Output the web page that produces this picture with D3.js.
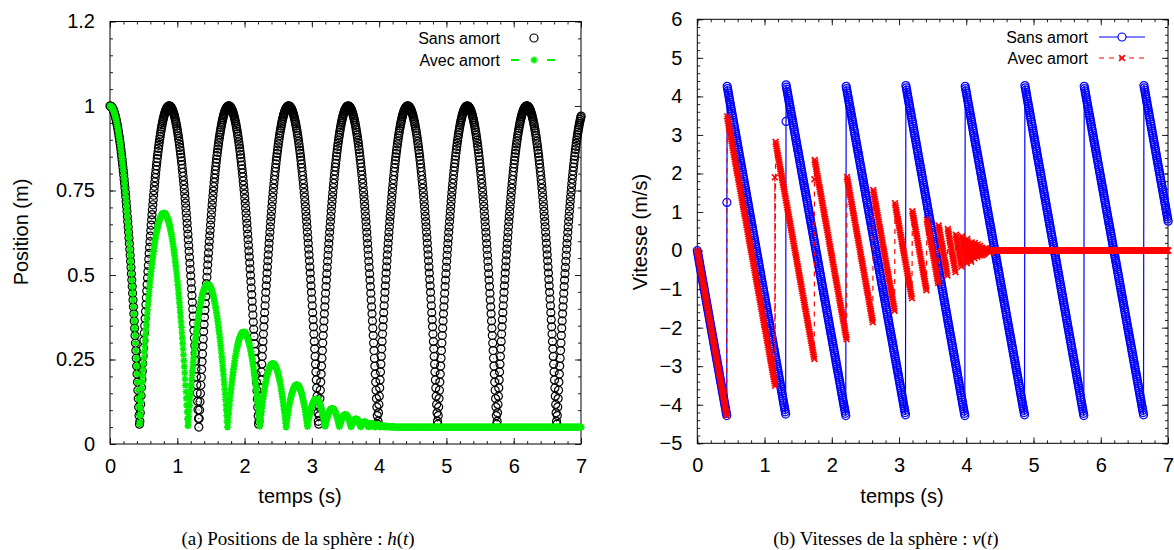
<!DOCTYPE html>
<html>
<head>
<meta charset="utf-8">
<script src="https://cdn.jsdelivr.net/npm/d3@7"></script>
<style>
  body { margin: 0; background: #fff; }
  svg text { font-family: "Liberation Sans", Arial, sans-serif; fill: #000; }
  svg .caption { font-family: "Liberation Serif", "Times New Roman", serif; }
</style>
</head>
<body>
<svg id="chart" width="1174" height="550"></svg>
<script>
// simulation output step and ground level (sphere radius)
const STEP = 0.006;
const GROUND = 0.05;
const T_MAX = 7;

const TIME_TICKS = [0, 1, 2, 3, 4, 5, 6, 7];
const POS_TICKS = [0, 0.25, 0.5, 0.75, 1, 1.25];
const POS_LABELS = ["0", "0.25", "0.5", "0.75", "1", "1.2"];
const VEL_TICKS = [-5, -4, -3, -2, -1, 0, 1, 2, 3, 4, 5, 6];

// "Sans amort": ground contacts, apex of each flight, speed of each flight
const freeImpacts = [0.44, 1.32, 2.21, 3.10, 3.98, 4.87, 5.75, 6.64, 7.52];
const freeApex = [1, 1, 1, 1, 1, 1, 1, 1, 1];
const freeSpeed = [4.3, 4.3, 4.3, 4.3, 4.3, 4.3, 4.3, 4.3, 4.3];
const freeContact = [[0.44, 1.25], [1.32, 3.35]];

// "Avec amort"
const dampImpacts = [0.44, 1.159, 1.746, 2.225, 2.616, 2.935, 3.196, 3.409, 3.583,
  3.725, 3.841, 3.935, 4.013, 4.076, 4.127, 4.169, 4.204, 4.232, 4.255, 4.273, 4.289, 4.36];
const dampApex = [1, 0.683, 0.472, 0.331, 0.238, 0.175, 0.133, 0.105, 0.087, 0.074, 0.066,
  0.061, 0.057, 0.055, 0.053, 0.052, 0.051, 0.051, 0.05, 0.05, 0.05, 0.05];
const dampSpeed = [4.3, 3.52, 2.87, 2.35, 1.92, 1.57, 1.28, 1.04, 0.85, 0.70, 0.57, 0.46,
  0.38, 0.31, 0.25, 0.21, 0.17, 0.14, 0.11, 0.09, 0.075, 0.06];
const dampContact = [[1.153, 1.9], [1.742, 1.85]];

function trajectory(impacts, apex, speed, contact) {
  const pos = [], vel = [];
  const n = Math.round(T_MAX / STEP);
  for (let i = 0; i <= n; i++) {
    const t = i * STEP;
    let h, v;
    if (t <= impacts[0]) {
      const u = t / impacts[0];
      h = GROUND + (apex[0] - GROUND) * (1 - u * u);
      v = -speed[0] * u;
    } else {
      const k = d3.bisectRight(impacts, t);
      if (k >= impacts.length) {
        h = GROUND;
        v = 0;
      } else {
        const a = impacts[k - 1], b = impacts[k];
        const u = (t - a) / (b - a);
        h = GROUND + (apex[k] - GROUND) * (1 - (2 * u - 1) * (2 * u - 1));
        v = speed[k] * (1 - 2 * u);
      }
    }
    pos.push([t, h]);
    vel.push([t, v]);
  }
  contact.forEach(c => vel.push(c));
  vel.sort((p, q) => p[0] - q[0]);
  return { pos, vel };
}

const free = trajectory(freeImpacts, freeApex, freeSpeed, freeContact);
const damp = trajectory(dampImpacts, dampApex, dampSpeed, dampContact);

const svg = d3.select("#chart");

const GREEN = "#00f000";
const starPath = "M-3.4,0H3.4M0,-3.4V3.4M-2.5,-2.5L2.5,2.5M-2.5,2.5L2.5,-2.5";
const crossPath = "M-2.9,-2.9L2.9,2.9M-2.9,2.9L2.9,-2.9";

function frame(box, yDomain, yTicks, yLabels, yMinorStep) {
  const x = d3.scaleLinear().domain([0, T_MAX]).range([box.left, box.right]);
  const y = d3.scaleLinear().domain(yDomain).range([box.bottom, box.top]);
  const g = svg.append("g");

  const xMinor = d3.range(0, T_MAX + 1e-9, 0.2);
  const yMinor = d3.range(yDomain[0], yDomain[1] + 1e-9, yMinorStep);

  const axes = [
    [d3.axisBottom(x), "translate(0," + box.bottom + ")", TIME_TICKS, xMinor, true],
    [d3.axisTop(x), "translate(0," + box.top + ")", TIME_TICKS, xMinor, false],
    [d3.axisLeft(y), "translate(" + box.left + ",0)", yTicks, yMinor, true],
    [d3.axisRight(y), "translate(" + box.right + ",0)", yTicks, yMinor, false]
  ];
  axes.forEach(([ax, tr, major, minor, labelled]) => {
    g.append("g").attr("transform", tr)
      .call(ax.tickValues(minor).tickSize(-3).tickFormat(""))
      .call(s => s.select(".domain").remove());
    const a = g.append("g").attr("transform", tr)
      .call(ax.tickValues(major).tickSize(-6).tickPadding(labelled ? 15 : 0)
        .tickFormat(labelled ? ((d, i) => (yLabels && major === yTicks ? yLabels[i] : String(d).replace("-", "\u2212"))) : ""));
    a.select(".domain").remove();
    a.selectAll("text").style("font-size", "20px");
    g.selectAll(".tick line").attr("stroke", "#222");
  });

  g.append("rect")
    .attr("x", box.left).attr("y", box.top)
    .attr("width", box.right - box.left).attr("height", box.bottom - box.top)
    .attr("fill", "none").attr("stroke", "#000").attr("stroke-width", 1);

  return { x, y, g };
}

function drawCircles(layer, data, x, y, colour) {
  const m = layer.append("g").selectAll("g")
    .data(data).enter().append("g")
    .attr("transform", d => "translate(" + x(d[0]) + "," + y(d[1]) + ")");
  m.append("circle").attr("r", 4).attr("fill", "none")
    .attr("stroke", colour).attr("stroke-width", 1.2);
  m.append("circle").attr("r", 0.6).attr("fill", colour).attr("opacity", 0.6);
}

function drawSymbols(layer, data, x, y, colour, path) {
  layer.append("g").selectAll("path")
    .data(data).enter().append("path")
    .attr("d", path)
    .attr("transform", d => "translate(" + x(d[0]) + "," + y(d[1]) + ")")
    .attr("fill", "none").attr("stroke", colour).attr("stroke-width", 1.6);
}

function drawLine(layer, data, x, y, colour, dash) {
  layer.append("path")
    .datum(data)
    .attr("d", d3.line().x(d => x(d[0])).y(d => y(d[1])))
    .attr("fill", "none").attr("stroke", colour).attr("stroke-width", 1.2)
    .attr("stroke-dasharray", dash);
}

// (a) positions
const left = frame({ left: 110, right: 581, top: 21.5, bottom: 444 }, [0, 1.25], POS_TICKS, POS_LABELS, 0.05);
drawCircles(left.g, free.pos, left.x, left.y, "#000");
drawLine(left.g, damp.pos, left.x, left.y, GREEN, "8,6");
drawSymbols(left.g, damp.pos, left.x, left.y, GREEN, starPath);

// (b) vitesses
const right = frame({ left: 697.3, right: 1168, top: 19.3, bottom: 443.3 }, [-5, 6], VEL_TICKS, null, 0.2);
drawLine(right.g, free.vel, right.x, right.y, "#0000ff", null);
drawCircles(right.g, free.vel, right.x, right.y, "#0000ff");
drawLine(right.g, damp.vel, right.x, right.y, "#ff0000", "5,5");
drawSymbols(right.g, damp.vel, right.x, right.y, "#ff0000", crossPath);

// legends
function legendRow(textX, y, label) {
  svg.append("text").attr("x", textX).attr("y", y).attr("dy", "0.35em")
    .attr("text-anchor", "end").style("font-size", "16px").text(label);
}
legendRow(500, 38, "Sans amort");
legendRow(500, 60, "Avec amort");
svg.append("circle").attr("cx", 534).attr("cy", 38).attr("r", 4)
  .attr("fill", "none").attr("stroke", "#000").attr("stroke-width", 1.2);
svg.append("path").attr("d", "M511,60H519M547,60H555").attr("stroke", GREEN).attr("stroke-width", 2);
svg.append("path").attr("d", starPath).attr("transform", "translate(534,60)")
  .attr("stroke", GREEN).attr("stroke-width", 1.6);

legendRow(1088, 37, "Sans amort");
legendRow(1088, 58, "Avec amort");
svg.append("path").attr("d", "M1099,37H1145").attr("stroke", "#0000ff").attr("stroke-width", 1.2);
svg.append("circle").attr("cx", 1122).attr("cy", 37).attr("r", 4)
  .attr("fill", "#fff").attr("stroke", "#0000ff").attr("stroke-width", 1.2);
svg.append("path").attr("d", "M1099,58H1145").attr("stroke", "#ff0000")
  .attr("stroke-width", 1.2).attr("stroke-dasharray", "5,5");
svg.append("path").attr("d", crossPath).attr("transform", "translate(1122,58)")
  .attr("stroke", "#ff0000").attr("stroke-width", 1.6);

// axis titles
svg.append("text").attr("transform", "translate(28,232) rotate(-90)")
  .attr("text-anchor", "middle").style("font-size", "20px").text("Position (m)");
svg.append("text").attr("transform", "translate(647,232) rotate(-90)")
  .attr("text-anchor", "middle").style("font-size", "20px").text("Vitesse (m/s)");
svg.append("text").attr("x", 300).attr("y", 503)
  .attr("text-anchor", "middle").style("font-size", "20px").text("temps (s)");
svg.append("text").attr("x", 902).attr("y", 503)
  .attr("text-anchor", "middle").style("font-size", "20px").text("temps (s)");

// captions
function caption(cx, prefix, fn) {
  const t = svg.append("text").attr("class", "caption").attr("x", cx).attr("y", 545)
    .attr("text-anchor", "middle").style("font-size", "19px");
  t.append("tspan").text(prefix);
  t.append("tspan").style("font-style", "italic").text(fn);
  t.append("tspan").text("(");
  t.append("tspan").style("font-style", "italic").text("t");
  t.append("tspan").text(")");
}
caption(298, "(a) Positions de la sphère : ", "h");
caption(886, "(b) Vitesses de la sphère : ", "v");
</script>
</body>
</html>
